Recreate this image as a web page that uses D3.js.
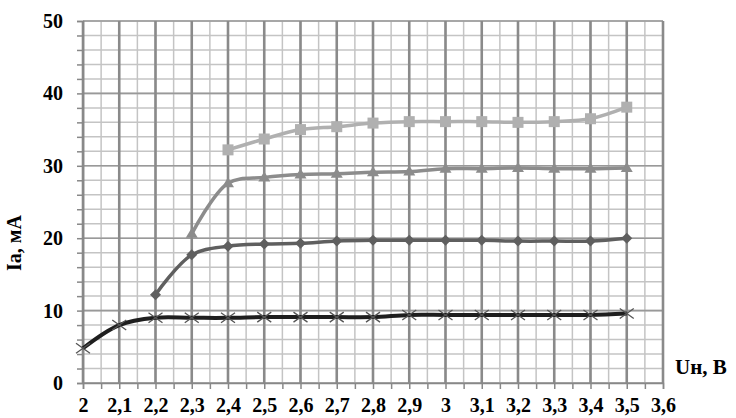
<!DOCTYPE html>
<html>
<head>
<meta charset="utf-8">
<script src="https://cdn.jsdelivr.net/npm/d3@7"></script>
<style>
  body { margin: 0; background: #fff; }
  text { font-family: "Liberation Serif", "Times New Roman", serif; font-weight: bold; }
</style>
</head>
<body>
<div id="chart"></div>
<script>
// x values (Uн, B)
const uValues = [2, 2.1, 2.2, 2.3, 2.4, 2.5, 2.6, 2.7, 2.8, 2.9, 3, 3.1, 3.2, 3.3, 3.4, 3.5];
const xTicks = [2, 2.1, 2.2, 2.3, 2.4, 2.5, 2.6, 2.7, 2.8, 2.9, 3, 3.1, 3.2, 3.3, 3.4, 3.5, 3.6];
const yTicks = [0, 10, 20, 30, 40, 50];

// Ia, mA for each curve (null = no point)
const seriesCross = [4.8, 8.0, 9.0, 9.0, 9.0, 9.1, 9.1, 9.1, 9.1, 9.4, 9.4, 9.4, 9.4, 9.4, 9.4, 9.6];
const seriesDiamond = [null, null, 12.2, 17.7, 18.9, 19.2, 19.3, 19.6, 19.7, 19.7, 19.7, 19.7, 19.6, 19.6, 19.6, 20.0];
const seriesTriangle = [null, null, null, 20.6, 27.6, 28.4, 28.8, 28.9, 29.1, 29.2, 29.6, 29.6, 29.7, 29.6, 29.6, 29.7];
const seriesSquare = [null, null, null, null, 32.2, 33.7, 35.0, 35.4, 35.9, 36.1, 36.1, 36.1, 36.0, 36.1, 36.5, 38.1];

const margin = { top: 21, right: 73, bottom: 35, left: 83 },
  width = 736 - margin.left - margin.right,
  height = 418 - margin.top - margin.bottom;

const svg = d3.select("#chart")
  .append("svg")
  .attr("width", 736)
  .attr("height", 418)
  .append("g")
  .attr("transform", `translate(${margin.left},${margin.top})`);

const x = d3.scaleLinear().domain([2, 3.6]).range([0, width]);
const y = d3.scaleLinear().domain([0, 50]).range([height, 0]);

// minor grid
const xMinor = d3.range(0, 33).map(i => 2 + i * 0.05);
const yMinor = d3.range(0, 26).map(i => i * 2);
svg.append("g").selectAll("line")
  .data(yMinor)
  .enter().append("line")
  .attr("x1", 0).attr("x2", width)
  .attr("y1", d => y(d)).attr("y2", d => y(d))
  .attr("stroke", "#c4c4c4").attr("stroke-width", 1.5);
svg.append("g").selectAll("line")
  .data(xMinor)
  .enter().append("line")
  .attr("x1", d => x(d)).attr("x2", d => x(d))
  .attr("y1", 0).attr("y2", height)
  .attr("stroke", "#c4c4c4").attr("stroke-width", 1.5);

// major grid
svg.append("g").selectAll("line")
  .data(yTicks)
  .enter().append("line")
  .attr("x1", 0).attr("x2", width)
  .attr("y1", d => y(d)).attr("y2", d => y(d))
  .attr("stroke", "#999").attr("stroke-width", 1.6);
svg.append("g").selectAll("line")
  .data(xTicks)
  .enter().append("line")
  .attr("x1", d => x(d)).attr("x2", d => x(d))
  .attr("y1", 0).attr("y2", height)
  .attr("stroke", "#8a8a8a").attr("stroke-width", 2.6);

// axes
const yAxis = svg.append("g")
  .call(d3.axisLeft(y).tickValues(yMinor).tickSize(6).tickFormat(d => d % 10 === 0 ? d : ""));
yAxis.select(".domain").attr("stroke", "#888").attr("stroke-width", 1.5);
yAxis.selectAll(".tick line").attr("stroke", "#888").attr("stroke-width", 1.5);
yAxis.selectAll(".tick text")
  .attr("x", -20)
  .style("font-family", "Liberation Serif, serif")
  .style("font-weight", "bold")
  .style("font-size", "20px")
  .attr("fill", "#000");

const xAxis = svg.append("g")
  .attr("transform", `translate(0,${height})`)
  .call(d3.axisBottom(x).tickValues(xMinor).tickSize(6)
    .tickFormat(d => {
      const r = Math.round(d * 100);
      return r % 10 === 0 ? String(r / 100).replace(".", ",") : "";
    }));
xAxis.select(".domain").attr("stroke", "#888").attr("stroke-width", 1.5);
xAxis.selectAll(".tick line").attr("stroke", "#888").attr("stroke-width", 1.5);
xAxis.selectAll(".tick text")
  .attr("y", 15)
  .style("font-family", "Liberation Serif, serif")
  .style("font-weight", "bold")
  .style("font-size", "20px")
  .attr("fill", "#000");

// axis titles
svg.append("text")
  .attr("transform", "rotate(-90)")
  .attr("x", -(243 - margin.top))
  .attr("y", -62)
  .attr("text-anchor", "middle")
  .style("font-size", "20px")
  .text("Ia, мА");

svg.append("text")
  .attr("x", width + 12)
  .attr("y", 353)
  .style("font-size", "21px")
  .text("Uн, В");

// curves
const line = d3.line()
  .defined(d => d[1] !== null)
  .x(d => x(d[0]))
  .y(d => y(d[1]))
  .curve(d3.curveCatmullRom.alpha(0.5));

function pts(vals) {
  return uValues.map((u, i) => [u, vals[i]]).filter(d => d[1] !== null);
}

const series = [
  { name: "square", vals: seriesSquare, color: "#b0b0b0", width: 3.5 },
  { name: "triangle", vals: seriesTriangle, color: "#8c8c8c", width: 3.5 },
  { name: "diamond", vals: seriesDiamond, color: "#5f5f5f", width: 3.5 },
  { name: "cross", vals: seriesCross, color: "#1e1e1e", width: 4 }
];

series.forEach(s => {
  const data = pts(s.vals);
  svg.append("path")
    .datum(data)
    .attr("fill", "none")
    .attr("stroke", s.color)
    .attr("stroke-width", s.width)
    .attr("d", line);

  const g = svg.append("g");
  if (s.name === "square") {
    g.selectAll("rect").data(data).enter().append("rect")
      .attr("x", d => x(d[0]) - 5.5).attr("y", d => y(d[1]) - 5.5)
      .attr("width", 11).attr("height", 11)
      .attr("fill", s.color);
  } else if (s.name === "triangle") {
    g.selectAll("path").data(data).enter().append("path")
      .attr("transform", d => `translate(${x(d[0])},${y(d[1])})`)
      .attr("d", "M0,-6L6,4L-6,4Z")
      .attr("fill", s.color);
  } else if (s.name === "diamond") {
    g.selectAll("path").data(data).enter().append("path")
      .attr("transform", d => `translate(${x(d[0])},${y(d[1])})`)
      .attr("d", "M0,-5.5L5.5,0L0,5.5L-5.5,0Z")
      .attr("fill", s.color);
  } else {
    g.selectAll("path").data(data).enter().append("path")
      .attr("transform", d => `translate(${x(d[0])},${y(d[1])})`)
      .attr("d", "M-7,-5L7,5M-7,5L7,-5")
      .attr("stroke", "#555")
      .attr("stroke-width", 1.3)
      .attr("fill", "none");
  }
});
</script>
</body>
</html>
